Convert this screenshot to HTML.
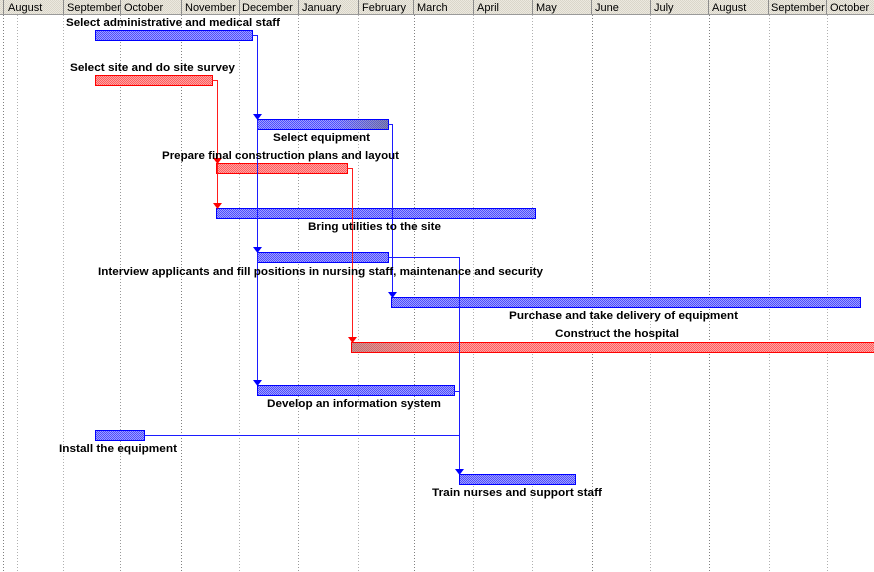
<!DOCTYPE html>
<html>
<head>
<meta charset="utf-8">
<style>
html,body{margin:0;padding:0;background:#fff;}
svg{display:block;}
.hd{font-family:"Liberation Sans",Arial,sans-serif;font-size:11px;fill:#000;}
.lb{font-family:"Liberation Sans",Arial,sans-serif;font-size:11px;font-weight:bold;fill:#000;}
</style>
</head>
<body>
<svg width="874" height="572" viewBox="0 0 874 572" xmlns="http://www.w3.org/2000/svg">
<defs>
  <pattern id="pb" width="2" height="2" patternUnits="userSpaceOnUse">
    <rect width="2" height="2" fill="#a0a0ff"/>
    <rect width="1" height="1" fill="#4c4cff"/>
    <rect x="1" y="1" width="1" height="1" fill="#4c4cff"/>
  </pattern>
  <pattern id="pr" width="2" height="2" patternUnits="userSpaceOnUse">
    <rect width="2" height="2" fill="#ffa4a4"/>
    <rect width="1" height="1" fill="#ff5c5c"/>
    <rect x="1" y="1" width="1" height="1" fill="#ff5c5c"/>
  </pattern>
  <pattern id="ph" width="2" height="2" patternUnits="userSpaceOnUse">
    <rect width="2" height="2" fill="#ece9df"/>
    <rect width="1" height="1" fill="#dad6ca"/>
    <rect x="1" y="1" width="1" height="1" fill="#dad6ca"/>
  </pattern>
  <linearGradient id="gEq" x1="0" x2="1" y1="0" y2="0">
    <stop offset="0" stop-color="#808080" stop-opacity="0"/>
    <stop offset="0.6" stop-color="#808080" stop-opacity="0"/>
    <stop offset="1" stop-color="#707070" stop-opacity="0.55"/>
  </linearGradient>
  <linearGradient id="gCo" x1="0" x2="1" y1="0" y2="0">
    <stop offset="0" stop-color="#808080" stop-opacity="0.45"/>
    <stop offset="0.15" stop-color="#808080" stop-opacity="0"/>
    <stop offset="1" stop-color="#808080" stop-opacity="0"/>
  </linearGradient>
</defs>

<rect x="0" y="0" width="874" height="572" fill="#fff"/>

<!-- body gridlines -->
<g stroke-width="1" stroke-dasharray="1,2" fill="none">
  <line x1="3.5" y1="15" x2="3.5" y2="572" stroke="#808080"/>
  <line x1="17.5" y1="15" x2="17.5" y2="572" stroke="#b0b0b0"/>
  <line x1="63.5" y1="15" x2="63.5" y2="572" stroke="#b0b0b0"/>
  <line x1="120.5" y1="15" x2="120.5" y2="572" stroke="#999"/>
  <line x1="181.5" y1="15" x2="181.5" y2="572" stroke="#808080"/>
  <line x1="239.5" y1="15" x2="239.5" y2="572" stroke="#b0b0b0"/>
  <line x1="298.5" y1="15" x2="298.5" y2="572" stroke="#999"/>
  <line x1="358.5" y1="15" x2="358.5" y2="572" stroke="#b0b0b0"/>
  <line x1="414.5" y1="15" x2="414.5" y2="572" stroke="#808080"/>
  <line x1="473.5" y1="15" x2="473.5" y2="572" stroke="#b0b0b0"/>
  <line x1="532.5" y1="15" x2="532.5" y2="572" stroke="#b0b0b0"/>
  <line x1="592.5" y1="15" x2="592.5" y2="572" stroke="#808080"/>
  <line x1="650.5" y1="15" x2="650.5" y2="572" stroke="#b0b0b0"/>
  <line x1="709.5" y1="15" x2="709.5" y2="572" stroke="#808080"/>
  <line x1="769.5" y1="15" x2="769.5" y2="572" stroke="#b0b0b0"/>
  <line x1="827.5" y1="15" x2="827.5" y2="572" stroke="#b0b0b0"/>
</g>

<!-- header -->
<rect x="0" y="0" width="874" height="14" fill="url(#ph)"/>
<line x1="0" y1="14.5" x2="874" y2="14.5" stroke="#9a9a9a"/>
<g stroke="#8c8c8c" stroke-width="1">
  <line x1="3.5" y1="0" x2="3.5" y2="14"/>
  <line x1="63.5" y1="0" x2="63.5" y2="14"/>
  <line x1="120.5" y1="0" x2="120.5" y2="14"/>
  <line x1="181.5" y1="0" x2="181.5" y2="14"/>
  <line x1="239.5" y1="0" x2="239.5" y2="14"/>
  <line x1="298.5" y1="0" x2="298.5" y2="14"/>
  <line x1="358.5" y1="0" x2="358.5" y2="14"/>
  <line x1="413.5" y1="0" x2="413.5" y2="14"/>
  <line x1="473.5" y1="0" x2="473.5" y2="14"/>
  <line x1="532.5" y1="0" x2="532.5" y2="14"/>
  <line x1="591.5" y1="0" x2="591.5" y2="14"/>
  <line x1="650.5" y1="0" x2="650.5" y2="14"/>
  <line x1="708.5" y1="0" x2="708.5" y2="14"/>
  <line x1="768.5" y1="0" x2="768.5" y2="14"/>
  <line x1="826.5" y1="0" x2="826.5" y2="14"/>
</g>
<g class="hd">
  <text x="8" y="11">August</text>
  <text x="67" y="11">September</text>
  <text x="124" y="11">October</text>
  <text x="185" y="11">November</text>
  <text x="242" y="11">December</text>
  <text x="302" y="11">January</text>
  <text x="362" y="11">February</text>
  <text x="417" y="11">March</text>
  <text x="477" y="11">April</text>
  <text x="536" y="11">May</text>
  <text x="595" y="11">June</text>
  <text x="654" y="11">July</text>
  <text x="712" y="11">August</text>
  <text x="771" y="11">September</text>
  <text x="830" y="11">October</text>
</g>

<!-- bars -->
<g stroke-width="1">
  <rect x="95.5" y="30.5" width="157" height="10" fill="url(#pb)" stroke="#0000ff"/>
  <rect x="95.5" y="75.5" width="117" height="10" fill="url(#pr)" stroke="#ff0000"/>
  <rect x="257.5" y="119.5" width="131" height="10" fill="url(#pb)" stroke="#0000ff"/>
  <rect x="257.5" y="120" width="130.5" height="9" fill="url(#gEq)" stroke="none"/>
  <rect x="216.5" y="163.5" width="131" height="10" fill="url(#pr)" stroke="#ff0000"/>
  <rect x="216.5" y="208.5" width="319" height="10" fill="url(#pb)" stroke="#0000ff"/>
  <rect x="257.5" y="252.5" width="131" height="10" fill="url(#pb)" stroke="#0000ff"/>
  <rect x="391.5" y="297.5" width="469" height="10" fill="url(#pb)" stroke="#0000ff"/>
  <rect x="351.5" y="342.5" width="530" height="10" fill="url(#pr)" stroke="#ff0000"/>
  <rect x="352" y="343" width="522" height="9" fill="url(#gCo)" stroke="none"/>
  <rect x="257.5" y="385.5" width="197" height="10" fill="url(#pb)" stroke="#0000ff"/>
  <rect x="95.5" y="430.5" width="49" height="10" fill="url(#pb)" stroke="#0000ff"/>
  <rect x="459.5" y="474.5" width="116" height="10" fill="url(#pb)" stroke="#0000ff"/>
</g>

<!-- connectors -->
<g fill="none" stroke-width="1">
  <path d="M252 35.5 H257.5 V385" stroke="#1c1cff"/>
  <path d="M388 124.5 H392.5 V297" stroke="#1c1cff"/>
  <path d="M388 257.5 H459.5 V474" stroke="#1c1cff"/>
  <path d="M454 391.5 H459.5" stroke="#1c1cff"/>
  <path d="M144 435.5 H459.5" stroke="#1c1cff"/>
  <path d="M212 80.5 H217.5 V208" stroke="#ff1c1c"/>
  <path d="M347 168.5 H352.5 V342" stroke="#ff1c1c"/>
</g>

<!-- arrowheads -->
<g fill="#0000ff">
  <polygon points="253,114 262,114 257.5,120"/>
  <polygon points="253,247 262,247 257.5,253"/>
  <polygon points="253,380 262,380 257.5,386"/>
  <polygon points="388,292 397,292 392.5,298"/>
  <polygon points="455,469 464,469 459.5,475"/>
</g>
<g fill="#ff0000">
  <polygon points="213,158 222,158 217.5,164"/>
  <polygon points="213,203 222,203 217.5,209"/>
  <polygon points="348,337 357,337 352.5,343"/>
</g>

<!-- labels -->
<g class="lb">
  <text x="66" y="26" textLength="214" lengthAdjust="spacingAndGlyphs">Select administrative and medical staff</text>
  <text x="70" y="71" textLength="165" lengthAdjust="spacingAndGlyphs">Select site and do site survey</text>
  <text x="273" y="141" textLength="97" lengthAdjust="spacingAndGlyphs">Select equipment</text>
  <text x="162" y="159" textLength="237" lengthAdjust="spacingAndGlyphs">Prepare final construction plans and layout</text>
  <text x="308" y="230" textLength="133" lengthAdjust="spacingAndGlyphs">Bring utilities to the site</text>
  <text x="98" y="275" textLength="445" lengthAdjust="spacingAndGlyphs">Interview applicants and fill positions in nursing staff, maintenance and security</text>
  <text x="509" y="319" textLength="229" lengthAdjust="spacingAndGlyphs">Purchase and take delivery of equipment</text>
  <text x="555" y="337" textLength="124" lengthAdjust="spacingAndGlyphs">Construct the hospital</text>
  <text x="267" y="407" textLength="174" lengthAdjust="spacingAndGlyphs">Develop an information system</text>
  <text x="59" y="452" textLength="118" lengthAdjust="spacingAndGlyphs">Install the equipment</text>
  <text x="432" y="496" textLength="170" lengthAdjust="spacingAndGlyphs">Train nurses and support staff</text>
</g>
</svg>
</body>
</html>
